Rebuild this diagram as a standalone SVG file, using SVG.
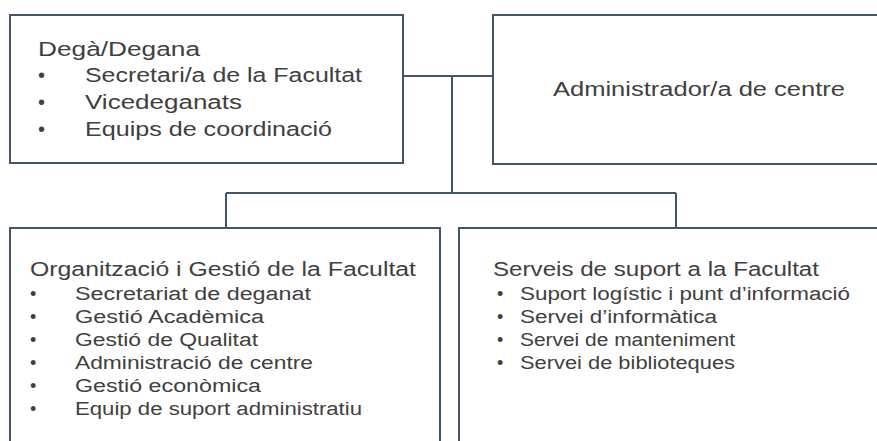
<svg xmlns="http://www.w3.org/2000/svg" width="877" height="441" viewBox="0 0 877 441">
<style>
.box{fill:#ffffff;stroke:#44546A;stroke-width:2}
.con{fill:none;stroke:#44546A;stroke-width:2}
text{font-family:"Liberation Sans","DejaVu Sans",sans-serif;fill:#404040}
.t1{font-size:20px}
.t2{font-size:18px}
</style>
<rect width="877" height="441" fill="#ffffff"/>
<g id="connectors">
<path class="con" d="M403,76 H493 M452,76 V193 M226,193 H676 M226,193 V228 M676,193 V228"/>
</g>
<g id="dega">
<rect class="box" x="10" y="15" width="393" height="148"/>
<text class="t1" x="38" y="56" textLength="162" lengthAdjust="spacingAndGlyphs">Degà/Degana</text>
<text class="t1" x="38" y="82">•</text>
<text class="t1" x="85" y="82" textLength="277" lengthAdjust="spacingAndGlyphs">Secretari/a de la Facultat</text>
<text class="t1" x="38" y="109">•</text>
<text class="t1" x="85" y="109" textLength="157" lengthAdjust="spacingAndGlyphs">Vicedeganats</text>
<text class="t1" x="38" y="136">•</text>
<text class="t1" x="85" y="136" textLength="247" lengthAdjust="spacingAndGlyphs">Equips de coordinació</text>
</g>
<g id="administrador">
<rect class="box" x="493" y="15" width="420" height="149"/>
<text class="t1" x="553" y="96" textLength="292" lengthAdjust="spacingAndGlyphs">Administrador/a de centre</text>
</g>
<g id="organitzacio">
<rect class="box" x="10" y="228" width="430" height="300"/>
<text class="t1" x="30" y="276" textLength="386" lengthAdjust="spacingAndGlyphs">Organització i Gestió de la Facultat</text>
<text class="t2" x="30" y="300">•</text>
<text class="t2" x="75" y="300" textLength="236" lengthAdjust="spacingAndGlyphs">Secretariat de deganat</text>
<text class="t2" x="30" y="323">•</text>
<text class="t2" x="75" y="323" textLength="189" lengthAdjust="spacingAndGlyphs">Gestió Acadèmica</text>
<text class="t2" x="30" y="346">•</text>
<text class="t2" x="75" y="346" textLength="183" lengthAdjust="spacingAndGlyphs">Gestió de Qualitat</text>
<text class="t2" x="30" y="369">•</text>
<text class="t2" x="75" y="369" textLength="238" lengthAdjust="spacingAndGlyphs">Administració de centre</text>
<text class="t2" x="30" y="392">•</text>
<text class="t2" x="75" y="392" textLength="186" lengthAdjust="spacingAndGlyphs">Gestió econòmica</text>
<text class="t2" x="30" y="415">•</text>
<text class="t2" x="75" y="415" textLength="287" lengthAdjust="spacingAndGlyphs">Equip de suport administratiu</text>
</g>
<g id="serveis">
<rect class="box" x="459" y="228" width="460" height="300"/>
<text class="t1" x="493" y="276" textLength="326" lengthAdjust="spacingAndGlyphs">Serveis de suport a la Facultat</text>
<text class="t2" x="497" y="300">•</text>
<text class="t2" x="520" y="300" textLength="330" lengthAdjust="spacingAndGlyphs">Suport logístic i punt d’informació</text>
<text class="t2" x="497" y="323">•</text>
<text class="t2" x="520" y="323" textLength="197" lengthAdjust="spacingAndGlyphs">Servei d’informàtica</text>
<text class="t2" x="497" y="346">•</text>
<text class="t2" x="520" y="346" textLength="215" lengthAdjust="spacingAndGlyphs">Servei de manteniment</text>
<text class="t2" x="497" y="369">•</text>
<text class="t2" x="520" y="369" textLength="215" lengthAdjust="spacingAndGlyphs">Servei de biblioteques</text>
</g>
</svg>
